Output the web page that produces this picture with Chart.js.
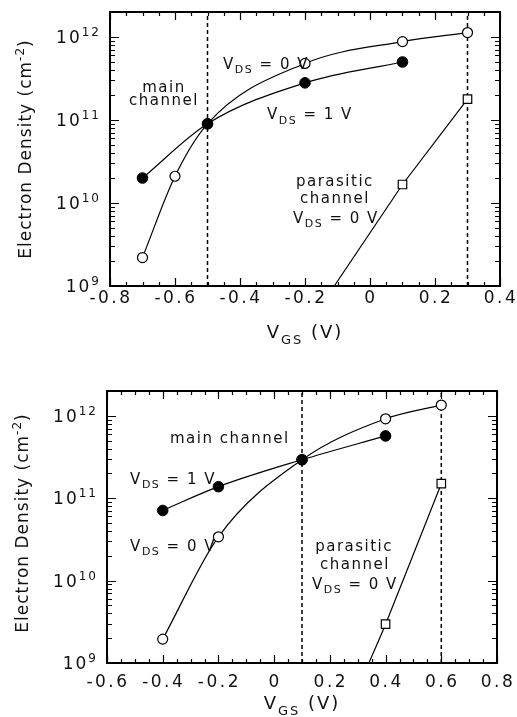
<!DOCTYPE html>
<html><head><meta charset="utf-8">
<script src="https://cdn.jsdelivr.net/npm/chart.js@4.4.1/dist/chart.umd.min.js"></script>
<style>
html,body{margin:0;padding:0;background:#fff;width:517px;height:717px;overflow:hidden}
canvas{position:absolute;left:0}
#c1{top:0}#c2{top:358px}
</style></head><body>
<canvas id="c1" width="517" height="358"></canvas>
<canvas id="c2" width="517" height="359"></canvas>
<script>
// ---------- data: upper panel ----------
const topVgs1 = [-0.7, -0.5, -0.2, 0.1];            // V_DS = 1 V (filled)
const topN1   = [2.0e10, 9.0e10, 2.8e11, 5.0e11];
const topVgs0 = [-0.7, -0.6, -0.5, -0.2, 0.1, 0.3]; // V_DS = 0 V (open)
const topN0   = [2.2e9, 2.1e10, 9.0e10, 4.8e11, 8.8e11, 1.13e12];
const topVgsPar = [-0.11, 0.1, 0.3];                // parasitic channel
const topNPar   = [1.0e9, 1.67e10, 1.78e11];
const topDashX  = [-0.5, 0.3];
const topXTicks  = [-0.8, -0.6, -0.4, -0.2, 0, 0.2, 0.4];
const topXLabels = ['-0.8', '-0.6', '-0.4', '-0.2', '0', '0.2', '0.4'];

// ---------- data: lower panel ----------
const botVgs1 = [-0.4, -0.2, 0.1, 0.4];
const botN1   = [7.1e10, 1.38e11, 2.93e11, 5.7e11];
const botVgs0 = [-0.4, -0.2, 0.1, 0.4, 0.6];
const botN0   = [1.95e9, 3.4e10, 2.93e11, 9.2e11, 1.35e12];
const botVgsPar = [0.34, 0.4, 0.6];
const botNPar   = [1.0e9, 2.96e9, 1.5e11];
const botDashX  = [0.1, 0.6];
const botXTicks  = [-0.6, -0.4, -0.2, 0, 0.2, 0.4, 0.6, 0.8];
const botXLabels = ['-0.6', '-0.4', '-0.2', '0', '0.2', '0.4', '0.6', '0.8'];

// ---------- shared ----------
const yTickVals = [1e9, 1e10, 1e11, 1e12];
const yTickExp  = ['9', '10', '11', '12'];
const Y_MIN = 1e9, Y_MAX = 2e12;

const FONT = '"DejaVu Sans", sans-serif';
const INK = '#111';

function parseRich(s) {
  const out = []; const re = /_\{([^}]*)\}|\^\{([^}]*)\}|[^_^]+/g; let m;
  while ((m = re.exec(s))) {
    if (m[1] !== undefined) out.push({t: m[1], k: 'sub'});
    else if (m[2] !== undefined) out.push({t: m[2], k: 'sup'});
    else out.push({t: m[0], k: ''});
  }
  return out;
}
function setF(ctx, p, fs, ls) {
  ctx.font = (p.k ? Math.round(fs * 0.72) : fs) + 'px ' + FONT;
  ctx.letterSpacing = ls + 'px';
}
function drawRich(ctx, s, x, y, fs, align, ls) {
  const parts = parseRich(s);
  let w = 0;
  for (const p of parts) { setF(ctx, p, fs, ls); w += ctx.measureText(p.t).width; }
  let cx = align === 'center' ? x - w / 2 : align === 'right' ? x - w : x;
  ctx.textAlign = 'left'; ctx.textBaseline = 'alphabetic'; ctx.fillStyle = INK;
  const base = y + fs * 0.36;
  for (const p of parts) {
    setF(ctx, p, fs, ls);
    const off = p.k === 'sub' ? fs * 0.3 : p.k === 'sup' ? -fs * 0.42 : 0;
    ctx.fillText(p.t, cx, base + off);
    cx += ctx.measureText(p.t).width;
  }
}

const decor = {
  id: 'decor',
  afterDatasetsDraw(chart, args, o) {
    const {ctx, chartArea: a, scales: {x, y}} = chart;
    ctx.save();
    ctx.strokeStyle = '#000';
    ctx.lineWidth = 1.2;
    ctx.beginPath();
    const n = Math.round((x.max - x.min) / 0.05);
    for (let i = 0; i <= n; i++) {
      const px = Math.round(x.getPixelForValue(x.min + i * 0.05)) + 0.5;
      const L = i % 4 === 0 ? 8 : 4;
      ctx.moveTo(px, a.bottom); ctx.lineTo(px, a.bottom - L);
      ctx.moveTo(px, a.top); ctx.lineTo(px, a.top + L);
    }
    for (let d = 9; d < 13; d++) {
      for (let m = 1; m < 10; m++) {
        const v = m * Math.pow(10, d);
        if (v > y.max) break;
        const py = Math.round(y.getPixelForValue(v)) + 0.5;
        const L = m === 1 ? 9 : 5;
        ctx.moveTo(a.left, py); ctx.lineTo(a.left + L, py);
        ctx.moveTo(a.right, py); ctx.lineTo(a.right - L, py);
      }
    }
    ctx.stroke();
    ctx.lineWidth = 2;
    ctx.strokeRect(a.left, a.top, a.right - a.left, a.bottom - a.top);

    // x tick labels
    o.xTicks.forEach((v, i) => {
      drawRich(ctx, o.xLabels[i], x.getPixelForValue(v) + 1, a.bottom + o.xLabelOff, 17, 'center', 2.5);
    });
    // y tick labels
    yTickVals.forEach((v, i) => {
      drawRich(ctx, '10^{' + yTickExp[i] + '}', a.left - 9, y.getPixelForValue(v), 17, 'right', 2);
    });
    // axis titles
    drawRich(ctx, 'V_{GS} (V)', (a.left + a.right) / 2, a.bottom + o.xTitleOff, 18, 'center', 2);
    ctx.save();
    ctx.translate(o.yTitleX, (a.top + a.bottom) / 2 + o.yTitleDy);
    ctx.rotate(-Math.PI / 2);
    drawRich(ctx, 'Electron Density (cm^{-2})', 0, 0, 17, 'center', 1);
    ctx.restore();
    // annotations
    for (const nt of o.notes) {
      drawRich(ctx, nt.t, x.getPixelForValue(nt.x), y.getPixelForValue(nt.y), 15, nt.align, 1.5);
    }
    ctx.restore();
  }
};

function pts(xs, ys) { return xs.map((v, i) => ({x: v, y: ys[i]})); }

function makeChart(id, d) {
  const datasets = [
    {data: pts(d.vgs1, d.n1), borderColor: '#000', borderWidth: 1.2, backgroundColor: '#000',
     pointRadius: 5.3, pointBorderWidth: 1, cubicInterpolationMode: 'monotone', showLine: true},
    {data: pts(d.vgs0, d.n0), borderColor: '#000', borderWidth: 1.2, backgroundColor: '#fff',
     pointRadius: 5, pointBorderWidth: 1.2, cubicInterpolationMode: 'monotone', showLine: true},
    {data: pts(d.vgsPar, d.nPar), borderColor: '#000', borderWidth: 1.2, backgroundColor: '#fff',
     pointStyle: 'rect', pointRadius: d.vgsPar.map((v, i) => i === 0 ? 0 : 6), pointBorderWidth: 1.2,
     tension: d.parTension, showLine: true},
  ];
  d.dashX.forEach(v => datasets.push({
    data: [{x: v, y: Y_MIN}, {x: v, y: Y_MAX}], borderColor: '#000', borderWidth: 1.5,
    borderDash: [4, 3], pointRadius: 0, showLine: true, tension: 0}));
  return new Chart(document.getElementById(id), {
    type: 'scatter',
    data: {datasets},
    options: {
      responsive: false, animation: false, events: [],
      layout: {padding: d.pad},
      plugins: {legend: {display: false}, tooltip: {enabled: false},
        decor: {xTicks: d.xTicks, xLabels: d.xLabels, xLabelOff: d.xLabelOff,
                xTitleOff: d.xTitleOff, yTitleX: d.yTitleX, yTitleDy: d.yTitleDy, notes: d.notes}},
      scales: {
        x: {type: 'linear', min: d.xMin, max: d.xMax,
            grid: {display: false, drawTicks: false}, border: {display: false},
            ticks: {display: false, stepSize: 0.2},
            afterFit(s) { s.height = d.xAxisH; }},
        y: {type: 'logarithmic', min: Y_MIN, max: Y_MAX,
            grid: {display: false, drawTicks: false}, border: {display: false},
            ticks: {display: false},
            afterFit(s) { s.width = d.yAxisW; }}
      }
    },
    plugins: [decor]
  });
}

makeChart('c1', {
  vgs1: topVgs1, n1: topN1, vgs0: topVgs0, n0: topN0, vgsPar: topVgsPar, nPar: topNPar,
  parTension: 0, dashX: topDashX, xTicks: topXTicks, xLabels: topXLabels,
  xMin: -0.8, xMax: 0.4, pad: {top: 12, right: 17, left: 0, bottom: 0},
  xAxisH: 72, yAxisW: 110, xLabelOff: 11, xTitleOff: 46, yTitleX: 25, yTitleDy: 0,
  notes: [
    {t: 'main', x: -0.634, y: 2.55e11, align: 'center'},
    {t: 'channel', x: -0.634, y: 1.78e11, align: 'center'},
    {t: 'V_{DS} = 0 V', x: -0.452, y: 4.8e11, align: 'left'},
    {t: 'V_{DS} = 1 V', x: -0.317, y: 1.18e11, align: 'left'},
    {t: 'parasitic', x: -0.108, y: 1.86e10, align: 'center'},
    {t: 'channel', x: -0.108, y: 1.16e10, align: 'center'},
    {t: 'V_{DS} = 0 V', x: -0.105, y: 6.7e9, align: 'center'}
  ]
});

makeChart('c2', {
  vgs1: botVgs1, n1: botN1, vgs0: botVgs0, n0: botN0, vgsPar: botVgsPar, nPar: botNPar,
  parTension: 0.2, dashX: botDashX, xTicks: botXTicks, xLabels: botXLabels,
  xMin: -0.6, xMax: 0.8, pad: {top: 33, right: 20, left: 0, bottom: 0},
  xAxisH: 54, yAxisW: 107, xLabelOff: 18, xTitleOff: 40, yTitleX: 22, yTitleDy: -4,
  notes: [
    {t: 'main channel', x: -0.374, y: 5.4e11, align: 'left'},
    {t: 'V_{DS} = 1 V', x: -0.517, y: 1.73e11, align: 'left'},
    {t: 'V_{DS} = 0 V', x: -0.517, y: 2.67e10, align: 'left'},
    {t: 'parasitic', x: 0.287, y: 2.67e10, align: 'center'},
    {t: 'channel', x: 0.29, y: 1.62e10, align: 'center'},
    {t: 'V_{DS} = 0 V', x: 0.29, y: 9.3e9, align: 'center'}
  ]
});
</script>
</body></html>
